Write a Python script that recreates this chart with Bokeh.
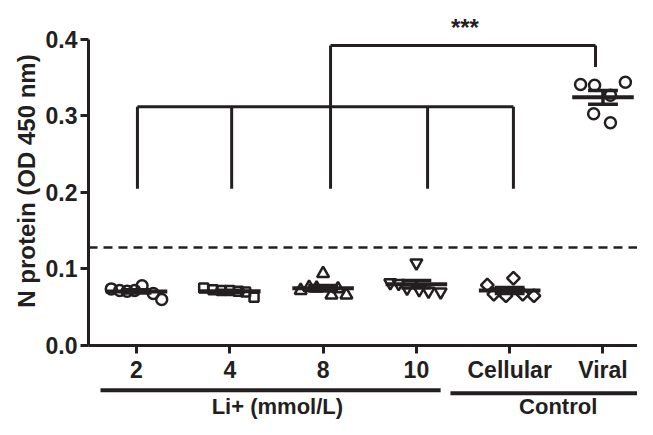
import numpy as np
from bokeh.plotting import figure
from bokeh.layouts import column
from bokeh.models import Range1d, FixedTicker, Span, Label, ColumnDataSource
from bokeh.core.properties import value
from bokeh.embed import file_html
from bokeh.resources import INLINE

# ---- data ----
groups = ["2", "4", "8", "10", "Cellular", "Viral"]
vals_2 = [0.074, 0.072, 0.071, 0.072, 0.078, 0.068, 0.060]
vals_4 = [0.075, 0.073, 0.072, 0.072, 0.071, 0.070, 0.063]
vals_8 = [0.072, 0.076, 0.075, 0.094, 0.066, 0.074, 0.066]
vals_10 = [0.082, 0.081, 0.075, 0.108, 0.073, 0.071, 0.070]
vals_cell = [0.079, 0.067, 0.065, 0.088, 0.067, 0.065]
vals_viral = [0.341, 0.340, 0.344, 0.327, 0.303, 0.291]
# horizontal scatter of the dots within each column (category units)
jit_2 = [-0.27, -0.18, -0.10, -0.02, 0.06, 0.18, 0.27]
jit_4 = [-0.28, -0.18, -0.09, 0.0, 0.09, 0.17, 0.26]
jit_8 = [-0.24, -0.15, -0.07, 0.0, 0.09, 0.16, 0.25]
jit_10 = [-0.28, -0.19, -0.10, 0.0, 0.03, 0.13, 0.26]
jit_cell = [-0.24, -0.17, -0.04, 0.04, 0.14, 0.26]
jit_viral = [-0.24, -0.09, 0.24, 0.08, -0.10, 0.08]
cutoff = 0.128
group_labels = ["Li+ (mmol/L)", "Control"]
y_ticks = [0.0, 0.1, 0.2, 0.3, 0.4]

INK = "#231f20"
FONT = "Liberation Sans"

p = figure(width=637, height=385, output_backend="svg", toolbar_location=None,
           x_range=Range1d(0.4855, 6.37), y_range=Range1d(0, 0.43),
           min_border_left=88, min_border_right=0, min_border_top=16, min_border_bottom=40)
p.outline_line_color = None
p.xgrid.visible = False
p.ygrid.visible = False

# axes
for ax in (p.xaxis[0], p.yaxis[0]):
    ax.axis_line_color = INK
    ax.axis_line_width = 3
    ax.major_tick_line_color = INK
    ax.major_tick_line_width = 3
    ax.major_tick_out = 8
    ax.major_tick_in = 0
    ax.minor_tick_line_color = None
    ax.major_label_text_font = FONT
    ax.major_label_text_font_style = "bold"
    ax.major_label_text_font_size = "23px"
    ax.major_label_text_color = INK

p.yaxis.ticker = FixedTicker(ticks=y_ticks)
p.yaxis.major_label_overrides = {t: f"{t:.1f}" for t in y_ticks}
p.yaxis.bounds = (0, 0.4)
p.yaxis.major_label_standoff = 3
p.yaxis.axis_label = "N protein (OD 450 nm)"
p.yaxis.axis_label_text_font = FONT
p.yaxis.axis_label_text_font_style = "bold"
p.yaxis.axis_label_text_font_size = "24px"
p.yaxis.axis_label_text_color = INK
p.yaxis.axis_label_standoff = 3

xs = list(range(1, len(groups) + 1))
p.xaxis.ticker = FixedTicker(ticks=xs)
p.xaxis.major_label_overrides = {x: g for x, g in zip(xs, groups)}
p.xaxis.major_label_standoff = 3

# dashed cutoff line
p.add_layout(Span(location=cutoff, dimension="width", line_color=INK,
                  line_width=2.5, line_dash="9 6"))

series = [
    (vals_2, jit_2, "circle", 11, 0),
    (vals_4, jit_4, "square", 9, 0),
    (vals_8, jit_8, "triangle", 12, 0),
    (vals_10, jit_10, "inverted_triangle", 12, 0),
    (vals_cell, jit_cell, "square", 9, np.pi / 4),
    (vals_viral, jit_viral, "circle", 11, 0),
]

for i, (vals, jit, marker, size, ang) in enumerate(series):
    xc = xs[i]
    src = ColumnDataSource(dict(x=[xc + j for j in jit], y=vals))
    p.scatter("x", "y", source=src, marker=marker, size=size, angle=ang,
              fill_color=None, line_color=INK, line_width=2.5)
    arr = np.array(vals)
    m = arr.mean()
    sem = arr.std(ddof=1) / np.sqrt(len(arr))
    p.segment(x0=[xc - 0.33], x1=[xc + 0.33], y0=[m], y1=[m], line_color=INK, line_width=4)
    p.segment(x0=[xc - 0.16, xc - 0.16, xc], x1=[xc + 0.16, xc + 0.16, xc],
              y0=[m + sem, m - sem, m - sem], y1=[m + sem, m - sem, m + sem],
              line_color=INK, line_width=3.5)

# significance brackets
low_top = 0.312
low_bot = 0.205
br_x = [1.01, 2.02, 3.08, 4.12, 5.04]
p.segment(x0=[br_x[0]], x1=[br_x[-1]], y0=[low_top], y1=[low_top], line_color=INK, line_width=3)
p.segment(x0=br_x, x1=br_x, y0=[low_top] * 5, y1=[low_bot] * 5, line_color=INK, line_width=3)
hi = 0.392
p.segment(x0=[3.08, 3.08, 5.92], x1=[3.08, 5.92, 5.92], y0=[low_top, hi, hi], y1=[hi, hi, 0.364],
          line_color=INK, line_width=3)
p.add_layout(Label(x=4.52, y=0.416, text="***", text_align="center", text_baseline="middle",
                   text_font=FONT, text_font_style="bold", text_font_size="24px", text_color=INK))

# lower strip: group underlines and group labels, same x scale as the main plot
p2 = figure(width=637, height=34, output_backend="svg", toolbar_location=None,
            x_range=p.x_range, y_range=Range1d(-0.0967, -0.0523),
            x_axis_location=None, y_axis_location=None,
            min_border_left=88, min_border_right=0, min_border_top=0, min_border_bottom=0)
p2.outline_line_color = None
p2.xgrid.visible = False
p2.ygrid.visible = False
p2.segment(x0=[0.614, 4.365], x1=[4.26, 6.37], y0=[-0.0585, -0.0625], y1=[-0.0585, -0.0625],
           line_color=INK, line_width=4)
p2.text(x=[2.51, 5.52], y=[-0.0795, -0.0795], text=group_labels, text_align="center",
        text_baseline="middle", text_font=value(FONT), text_font_style="bold",
        text_font_size="22px", text_color=INK)

layout = column(p, p2, spacing=0)
open("out.html", "w").write(file_html(layout, INLINE))
